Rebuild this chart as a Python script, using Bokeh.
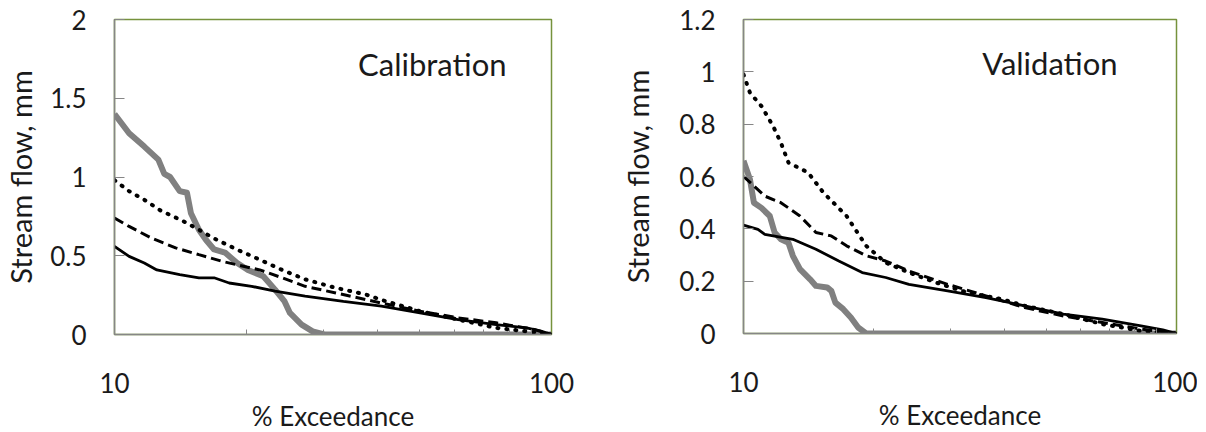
from bokeh.plotting import figure
from bokeh.layouts import row
from bokeh.models import Range1d, FixedTicker, Label
from bokeh.embed import file_html
from bokeh.resources import INLINE

# ---------------- data ----------------
# Calibration panel
cal_obs_x = [10, 10.8, 11.7, 12.6, 13.0, 13.4, 14.1, 14.65, 14.96, 15.6, 16.2, 16.9, 17.9, 19.05,
             20.2, 21.9, 23.3, 24.5, 25.2, 26.8, 28.4, 30.2, 100]
cal_obs_y = [1.40, 1.278, 1.193, 1.11, 1.02, 1.0, 0.91, 0.90, 0.77, 0.665, 0.60, 0.54, 0.52, 0.455,
             0.41, 0.37, 0.285, 0.21, 0.137, 0.063, 0.02, 0.0, 0.0]
cal_solid_x = [10, 10.8, 11.7, 12.5, 14.1, 15.6, 16.9, 18.3, 20.6, 23.3, 27.3, 33.4, 40.8, 50, 61.1,
               74.7, 87.7, 95, 100]
cal_solid_y = [0.56, 0.496, 0.454, 0.41, 0.38, 0.36, 0.36, 0.327, 0.306, 0.275, 0.243, 0.21, 0.18,
               0.137, 0.095, 0.063, 0.042, 0.02, 0.0]
cal_dash_x = [10, 10.8, 12.2, 13.8, 15.6, 17.6, 19.05, 21.5, 24.2, 27.3, 32.1, 40.8, 50, 61.1, 74.7,
              91.3, 100]
cal_dash_y = [0.74, 0.686, 0.61, 0.55, 0.507, 0.465, 0.443, 0.41, 0.36, 0.306, 0.264, 0.20, 0.148,
              0.106, 0.074, 0.032, 0.0]
cal_dot_x = [10, 10.8, 11.7, 12.7, 14.35, 15.6, 16.9, 19.05, 21.5, 24.2, 27.3, 32.1, 37.7, 40.8, 50,
             61.1, 74.7, 87.7, 100]
cal_dot_y = [0.98, 0.91, 0.855, 0.79, 0.72, 0.665, 0.61, 0.54, 0.475, 0.41, 0.35, 0.296, 0.253, 0.22,
             0.148, 0.095, 0.042, 0.02, 0.0]

# Validation panel
val_obs_x = [10, 10.35, 10.57, 11.0, 11.5, 11.8, 12.2, 12.7, 13.0, 13.5, 14.25, 14.7, 15.6, 15.95,
             16.3, 17.0, 17.7, 18.4, 19.2, 100]
val_obs_y = [0.66, 0.589, 0.50, 0.48, 0.449, 0.386, 0.36, 0.347, 0.297, 0.246, 0.207, 0.182, 0.176,
             0.163, 0.118, 0.093, 0.061, 0.023, 0.0, 0.0]
val_solid_x = [10, 10.8, 11.2, 13.0, 14.7, 16.6, 18.8, 21.3, 24.1, 29.6, 36.3, 44.6, 54.8, 67.4, 82.8,
               93, 100]
val_solid_y = [0.414, 0.398, 0.379, 0.36, 0.322, 0.277, 0.233, 0.214, 0.188, 0.163, 0.137, 0.106,
               0.074, 0.055, 0.029, 0.014, 0.0]
val_dash_x = [10, 10.57, 11.2, 12.2, 13.5, 14.7, 15.95, 17.3, 19.2, 21.3, 24.1, 29.6, 36.3, 44.6, 54.8,
              67.4, 82.8, 100]
val_dash_y = [0.60, 0.564, 0.525, 0.50, 0.449, 0.386, 0.373, 0.335, 0.297, 0.277, 0.239, 0.188, 0.144,
              0.099, 0.067, 0.042, 0.017, 0.0]
val_dot_x = [10, 10.35, 11.0, 11.7, 12.2, 12.7, 14.1, 15.3, 17.3, 19.2, 21.3, 24.1, 27.8, 32.8, 39.5,
             44.6, 54.8, 67.4, 82.8, 100]
val_dot_y = [0.99, 0.92, 0.869, 0.793, 0.729, 0.653, 0.615, 0.538, 0.449, 0.335, 0.271, 0.233, 0.195,
             0.157, 0.131, 0.106, 0.074, 0.036, 0.010, 0.0]

x_ticks = [10, 100]
x_tick_labels = ["10", "100"]
x_minor = [20, 30, 40, 50, 60, 70, 80, 90]
cal_y_ticks = [0, 0.5, 1, 1.5, 2]
cal_y_labels = ["0", "0.5", "1", "1.5", "2"]
val_y_ticks = [0, 0.2, 0.4, 0.6, 0.8, 1.0, 1.2]
val_y_labels = ["0", "0.2", "0.4", "0.6", "0.8", "1", "1.2"]
titles = ["Calibration", "Validation"]

FONT = "Lato"
TXT = "#1a1a1a"
GRAY_AX = "#868686"
OLIVE = "#76923c"


def make_panel(obs, solid, dash, dot, yticks, ylabels, ymax, title, tx, ty,
               bl, br, fw, fh, ylab_standoff):
    p = figure(x_axis_type="log", output_backend="svg", toolbar_location=None,
               frame_width=fw, frame_height=fh,
               min_border_left=bl, min_border_right=br, min_border_top=19,
               min_border_bottom=98,
               x_range=Range1d(10, 100), y_range=Range1d(0, ymax))
    p.xgrid.visible = False
    p.ygrid.visible = False
    p.outline_line_color = OLIVE
    p.outline_line_width = 1.5
    p.background_fill_color = "white"
    p.border_fill_color = "white"

    p.line(obs[0], obs[1], line_color="#808080", line_width=6, line_join="round")
    p.line(solid[0], solid[1], line_color="black", line_width=2.8)
    p.line(dash[0], dash[1], line_color="black", line_width=3, line_dash="10 5")
    p.line(dot[0], dot[1], line_color="black", line_width=4, line_dash="1 8", line_cap="round")

    xa = p.xaxis[0]
    xa.ticker = FixedTicker(ticks=x_ticks, minor_ticks=x_minor)
    xa.major_label_overrides = {t: l for t, l in zip(x_ticks, x_tick_labels)}
    xa.axis_line_color = GRAY_AX
    xa.axis_line_width = 1.5
    xa.major_tick_line_color = GRAY_AX
    xa.minor_tick_line_color = GRAY_AX
    xa.major_tick_in = 0
    xa.major_tick_out = 0
    xa.minor_tick_in = 5
    xa.minor_tick_out = 0
    xa.major_label_standoff = 38
    xa.major_label_text_font = FONT
    xa.major_label_text_font_size = "26px"
    xa.major_label_text_color = TXT
    xa.axis_label = "% Exceedance"
    xa.axis_label_text_font = FONT
    xa.axis_label_text_font_size = "26px"
    xa.axis_label_text_font_style = "normal"
    xa.axis_label_text_color = TXT
    xa.axis_label_standoff = 4

    ya = p.yaxis[0]
    ya.ticker = FixedTicker(ticks=yticks)
    ya.major_label_overrides = {t: l for t, l in zip(yticks, ylabels)}
    ya.axis_line_color = GRAY_AX
    ya.axis_line_width = 1.5
    ya.major_tick_line_color = GRAY_AX
    ya.major_tick_in = 10
    ya.major_tick_out = 0
    ya.minor_tick_line_color = None
    ya.major_label_standoff = 28
    ya.major_label_text_font = FONT
    ya.major_label_text_font_size = "26px"
    ya.major_label_text_color = TXT
    ya.axis_label = "Stream flow, mm"
    ya.axis_label_text_font = FONT
    ya.axis_label_text_font_size = "29px"
    ya.axis_label_text_font_style = "normal"
    ya.axis_label_text_color = TXT
    ya.axis_label_standoff = ylab_standoff

    p.add_layout(Label(x=tx, y=ty, text=title, text_font=FONT, text_font_size="31px",
                       text_color=TXT, text_align="right", text_baseline="alphabetic"))
    return p


p1 = make_panel((cal_obs_x, cal_obs_y), (cal_solid_x, cal_solid_y), (cal_dash_x, cal_dash_y),
                (cal_dot_x, cal_dot_y), cal_y_ticks, cal_y_labels, 2, titles[0], 78.9, 1.72,
                107, 48, 437, 315, 9)
p2 = make_panel((val_obs_x, val_obs_y), (val_solid_x, val_solid_y), (val_dash_x, val_dash_y),
                (val_dot_x, val_dot_y), val_y_ticks, val_y_labels, 1.2, titles[1], 73.1, 1.032,
                144, 21, 433, 314, 21)

layout = row(p1, p2, spacing=0)
open("out.html", "w").write(file_html(layout, INLINE))
